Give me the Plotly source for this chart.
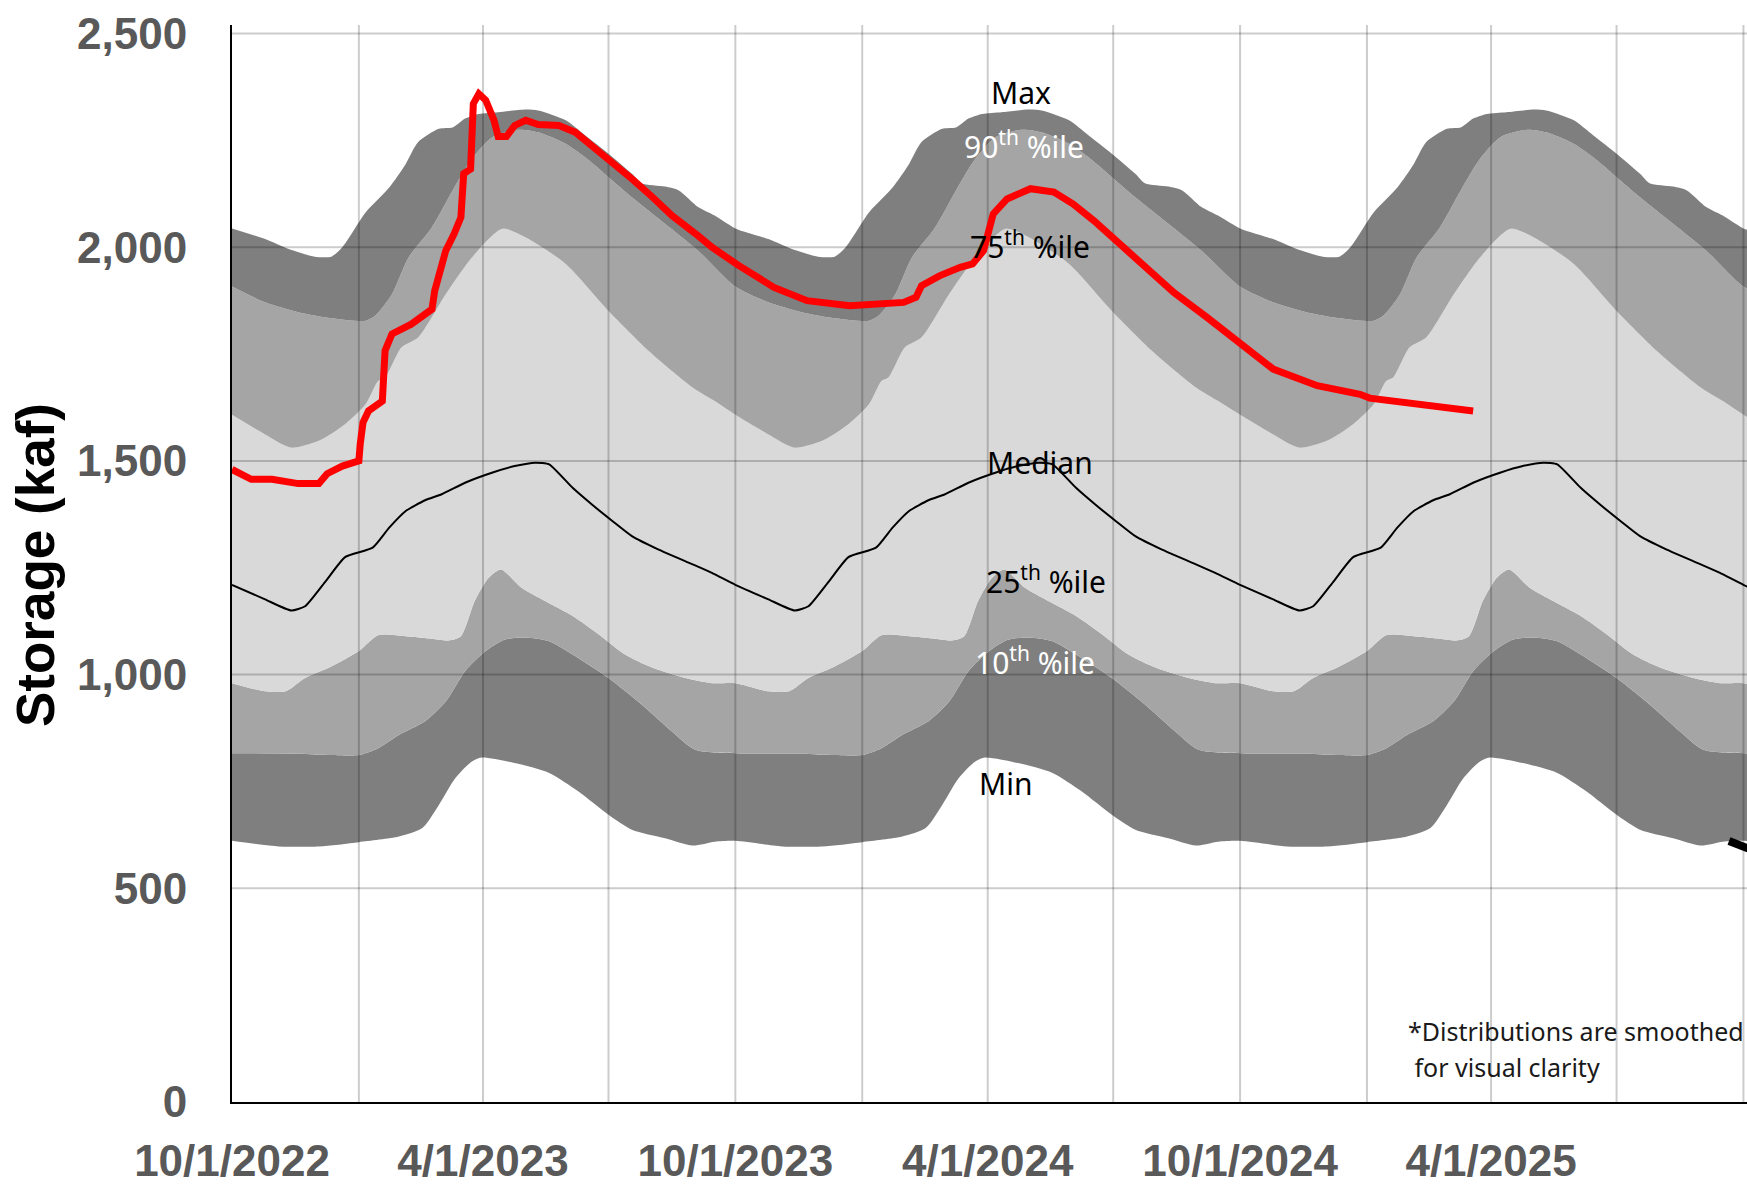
import plotly.graph_objects as go
import pandas as pd

# smoothed storage distribution, by day of water year (day 0 = Oct 1), kaf
max_day = [0, 24, 41, 60, 72, 80, 97, 114, 126, 135, 150, 160, 169, 179, 193, 213, 222, 242, 256, 273, 290, 297, 314, 324, 338, 350, 365]
max_kaf = [2044, 2019, 1996, 1978, 1978, 2000, 2082, 2140, 2195, 2246, 2277, 2280, 2301, 2312, 2316, 2322, 2320, 2297, 2262, 2219, 2172, 2150, 2142, 2133, 2094, 2074, 2044]

p90_day = [0, 24, 48, 72, 97, 104, 116, 128, 145, 160, 174, 189, 208, 222, 242, 259, 273, 290, 314, 338, 365]
p90_kaf = [1908, 1871, 1848, 1834, 1828, 1840, 1890, 1976, 2047, 2133, 2207, 2258, 2275, 2269, 2242, 2203, 2164, 2117, 2055, 1992, 1908]

p75_day = [0, 24, 43, 63, 82, 97, 106, 111, 123, 135, 155, 174, 196, 213, 242, 273, 302, 334, 350, 365]
p75_kaf = [1608, 1562, 1531, 1547, 1586, 1633, 1687, 1695, 1766, 1789, 1890, 1976, 2043, 2023, 1961, 1851, 1758, 1672, 1640, 1608]

med_day = [0, 24, 43, 53, 68, 82, 102, 114, 126, 140, 152, 169, 189, 205, 220, 230, 247, 261, 276, 290, 309, 334, 348, 365]
med_kaf = [1210, 1176, 1150, 1160, 1219, 1275, 1297, 1344, 1383, 1408, 1422, 1449, 1473, 1488, 1496, 1492, 1437, 1398, 1359, 1324, 1293, 1258, 1238, 1210]

p25_day = [0, 24, 39, 53, 72, 92, 106, 126, 145, 157, 166, 176, 186, 195, 210, 227, 247, 266, 285, 305, 329, 348, 365]
p25_kaf = [980, 961, 961, 992, 1019, 1055, 1092, 1090, 1084, 1080, 1090, 1172, 1226, 1246, 1203, 1172, 1137, 1094, 1047, 1016, 992, 980, 980]

p10_day = [0, 48, 72, 92, 106, 121, 140, 155, 169, 184, 198, 213, 230, 251, 273, 297, 319, 336, 365]
p10_kaf = [816, 815, 812, 812, 828, 859, 891, 937, 1008, 1055, 1082, 1087, 1078, 1039, 992, 930, 867, 824, 816]

min_day = [0, 34, 63, 92, 121, 138, 150, 162, 174, 181, 205, 230, 251, 273, 290, 314, 334, 350, 365]
min_kaf = [611, 598, 598, 608, 621, 641, 695, 758, 797, 806, 793, 770, 727, 672, 637, 617, 600, 609, 611]

wy_starts = ["2022-10-01", "2023-10-01", "2024-10-01", "2025-10-01"]

# observed storage, days since 10/1/2022
obs_day = [0, 14, 29, 48, 63, 69, 80, 92, 93, 95, 99, 106, 109, 111, 116, 130, 145, 147, 155, 161,
           166, 168, 173, 175, 179, 184, 190, 193, 199, 205, 213, 222, 237, 249, 261, 273, 290, 305, 319, 338,
           348, 367, 393, 417, 448, 487, 496, 500, 513, 528, 537, 545, 552, 562, 579, 596, 610, 625, 644, 663,
           683, 707, 733, 755, 787, 818, 825, 861, 900]
obs_kaf = [1480, 1457, 1457, 1447, 1447, 1470, 1488, 1500, 1540, 1590, 1617, 1631, 1640, 1758, 1797, 1820, 1855, 1898, 1992, 2031,
           2070, 2172, 2183, 2336, 2359, 2344, 2297, 2259, 2259, 2285, 2297, 2287, 2285, 2269, 2238, 2207, 2160, 2117, 2074, 2027,
           2000, 1958, 1906, 1875, 1863, 1871, 1883, 1910, 1933, 1953, 1961, 1992, 2078, 2113, 2137, 2129, 2101, 2062, 2008, 1949,
           1894, 1836, 1768, 1715, 1676, 1656, 1647, 1634, 1617]

x_ticks = ["2022-10-01", "2023-04-01", "2023-10-01", "2024-04-01", "2024-10-01", "2025-04-01"]
x_labels = ["10/1/2022", "4/1/2023", "10/1/2023", "4/1/2024", "10/1/2024", "4/1/2025"]
x_grid = ["2023-01-01", "2023-04-01", "2023-07-01", "2023-10-01", "2024-01-01", "2024-04-01",
          "2024-07-01", "2024-10-01", "2025-01-01", "2025-04-01", "2025-07-01", "2025-10-01"]
y_ticks = [0, 500, 1000, 1500, 2000, 2500]

x_range = ["2022-10-01", "2025-10-03 14:00"]
y_range = [0, 2520]

DARK = "#7f7f7f"
MID = "#a5a5a5"
LIGHT = "#d9d9d9"


def tile(days, vals):
    xs, ys = [], []
    for i, start in enumerate(wy_starts):
        last = i == len(wy_starts) - 1
        d = days if last else days[:-1]
        v = vals if last else vals[:-1]
        xs += list(pd.Timestamp(start) + pd.to_timedelta(d, unit="D"))
        ys += list(v)
    return xs, ys


fig = go.Figure()

bands = [
    (min_day, min_kaf, None),
    (p10_day, p10_kaf, DARK),
    (p25_day, p25_kaf, MID),
    (p75_day, p75_kaf, LIGHT),
    (p90_day, p90_kaf, MID),
    (max_day, max_kaf, DARK),
]
for days, vals, col in bands:
    xs, ys = tile(days, vals)
    fig.add_trace(go.Scatter(
        x=xs, y=ys, mode="lines",
        line=dict(width=0, shape="spline", smoothing=0.7),
        fill="tonexty" if col else None,
        fillcolor=col,
        hoverinfo="skip", showlegend=False))

# gridlines drawn over the bands, under the lines
gx, gy = [], []
for d in x_grid:
    gx += [d, d, None]
    gy += [y_range[0], y_range[1], None]
for v in y_ticks[1:]:
    gx += [x_range[0], x_range[1], None]
    gy += [v, v, None]
fig.add_trace(go.Scatter(x=gx, y=gy, mode="lines",
                         line=dict(color="rgba(0,0,0,0.2)", width=2),
                         hoverinfo="skip", showlegend=False))

mx, my = tile(med_day, med_kaf)
fig.add_trace(go.Scatter(x=mx, y=my, mode="lines",
                         line=dict(color="black", width=2, shape="spline", smoothing=0.5),
                         showlegend=False))

obs_x = pd.Timestamp("2022-10-01") + pd.to_timedelta(obs_day, unit="D")
fig.add_trace(go.Scatter(x=obs_x, y=obs_kaf, mode="lines",
                         line=dict(color="#ff0000", width=7),
                         showlegend=False))

label_font = dict(family="Noto Sans, sans-serif", size=30)
band_labels = [
    ("Max", "2024-04-25", 2361, "black"),
    ("90<sup>th</sup> %ile", "2024-04-27", 2239, "white"),
    ("75<sup>th</sup> %ile", "2024-05-02", 2005, "black"),
    ("Median", "2024-05-09", 1497, "black"),
    ("25<sup>th</sup> %ile", "2024-05-13", 1221, "black"),
    ("10<sup>th</sup> %ile", "2024-05-05", 1033, "white"),
    ("Min", "2024-04-14", 745, "black"),
]
for txt, xd, yv, col in band_labels:
    fig.add_annotation(x=xd, y=yv, text=txt, showarrow=False,
                       font=dict(color=col, **label_font))

# plot area sits at x 232..1747, y 25..1102 on the page
note_font = dict(family="Noto Sans, sans-serif", size=25, color="#1a1a1a")
fig.add_annotation(xref="paper", yref="paper", x=(1406 - 232) / 1515, y=(1102 - 1031) / 1077,
                   text="*Distributions are smoothed", showarrow=False,
                   xanchor="left", yanchor="middle", font=note_font)
fig.add_annotation(xref="paper", yref="paper", x=(1406 - 232) / 1515, y=(1102 - 1067) / 1077,
                   text=" for visual clarity", showarrow=False,
                   xanchor="left", yanchor="middle", font=note_font)

fig.add_annotation(xref="paper", yref="paper", x=(35 - 232) / 1515, y=(1102 - 565) / 1077,
                   text="Storage (kaf)", textangle=-90, showarrow=False,
                   xanchor="center", yanchor="middle",
                   font=dict(family="Arial, Liberation Sans, sans-serif", size=53,
                             color="black", weight="bold"))

# stub of a pointer coming in from outside the frame
fig.add_shape(type="line", xref="paper", yref="paper",
              x0=(1729 - 232) / 1515, y0=(1102 - 841) / 1077,
              x1=(1752 - 232) / 1515, y1=(1102 - 850) / 1077,
              line=dict(color="black", width=8), layer="above")

tick_font = dict(family="Arial, Liberation Sans, sans-serif", size=44,
                 color="#595959", weight="bold")

fig.update_layout(
    width=1747, height=1185,
    margin=dict(l=232, r=0, t=25, b=83, autoexpand=False),
    paper_bgcolor="white", plot_bgcolor="white",
    showlegend=False,
    xaxis=dict(range=x_range, type="date", tickvals=x_ticks, ticktext=x_labels,
               showgrid=False, zeroline=False, showline=True, linecolor="black",
               linewidth=2, ticks="", tickfont=tick_font, ticklabelstandoff=19,
               automargin=False),
    yaxis=dict(range=y_range, tickvals=y_ticks, tickformat=",",
               showgrid=False, zeroline=False, showline=True, linecolor="black",
               linewidth=2, ticks="", tickfont=tick_font, ticklabelstandoff=34,
               automargin=False),
)

# drop the page's default body margin so the figure fills the window exactly
fig.write_html("out.html", config={"displayModeBar": False},
               post_script="document.body.style.margin='0';document.body.style.overflow='hidden';")
